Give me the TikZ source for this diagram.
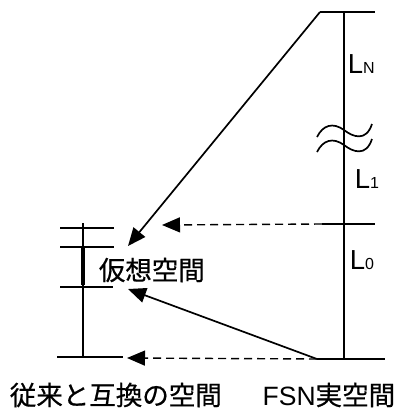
\documentclass[tikz,border=0pt]{standalone}
\usepackage{fontspec}
\setmainfont{Liberation Sans}
\newfontfamily\jp[FakeBold=0.6]{Noto Sans CJK JP}
\usetikzlibrary{arrows.meta}
\begin{document}
\begin{tikzpicture}[x=1pt,y=-1pt, line width=1.7pt,
  arr/.style={-{Triangle[length=18pt,width=15pt]}},
  dsh/.style={arr, line width=1.4pt, dash pattern=on 8pt off 5pt},
  lbl/.style={inner sep=0pt, font=\fontsize{26.5}{30}\selectfont},
  llbl/.style={inner sep=0pt, anchor=west, font=\fontsize{27.5}{30}\selectfont}]
\useasboundingbox[fill=white] (0,0) rectangle (399,410);
% right axis
\coordinate (RT) at (344,12); \coordinate (RB) at (344,359);
\coordinate (TL) at (320,12); \coordinate (TR) at (375,12);
\coordinate (ML) at (322,224); \coordinate (MR) at (375,224);
\coordinate (BL) at (317,359); \coordinate (BR) at (385,359);
\draw[line width=1.4pt] (RT) -- (RB);
\draw (TL) -- (TR);
\draw[line width=1.4pt] (ML) -- (MR);
\draw (BL) -- (BR);
% break marks
\draw (317,137) .. controls (323,125) and (333,122) .. (344,130) .. controls (353,137) and (366,142) .. (372,124);
\draw (317,152) .. controls (323,140) and (333,137) .. (344,145) .. controls (353,152) and (366,157) .. (372,139);
% left scale
\coordinate (LT) at (83,223); \coordinate (LB) at (83,357);
\draw[line width=1.4pt] (LT) -- (LB);
\draw (60,228) -- (114,228);
\draw (60,247) -- (114,247);
\draw (60,287) -- (113,287);
\draw (57,357) -- (123,357);
\draw[line width=4.5pt] (83,246) -- (83,285);
% arrow targets
\coordinate (A1) at (128,246);
\coordinate (A2) at (162,225);
\coordinate (A3) at (128,289);
\coordinate (A4) at (127,358);
\draw[arr] (TL) -- (A1);
\draw[dsh] (ML) -- (A2);
\draw[arr] (BL) -- (A3);
\draw[dsh] (BL) -- (A4);
% labels
\node[lbl, anchor=west] (vs) at (98,270) {\jp 仮想空間};
\node[lbl, anchor=west] (old) at (9,395) {\jp 従来と互換の空間};
\node[lbl, anchor=east] (fsn) at (396,395) {FSN{\jp 実空間}};
\node[llbl] (LN) at (347,64) {L{\fontsize{16}{16}\selectfont N}};
\node[llbl] (L1) at (354,179) {L{\fontsize{16}{16}\selectfont 1}};
\node[llbl] (L0) at (349,260) {L{\fontsize{16}{16}\selectfont 0}};
\end{tikzpicture}
\end{document}
